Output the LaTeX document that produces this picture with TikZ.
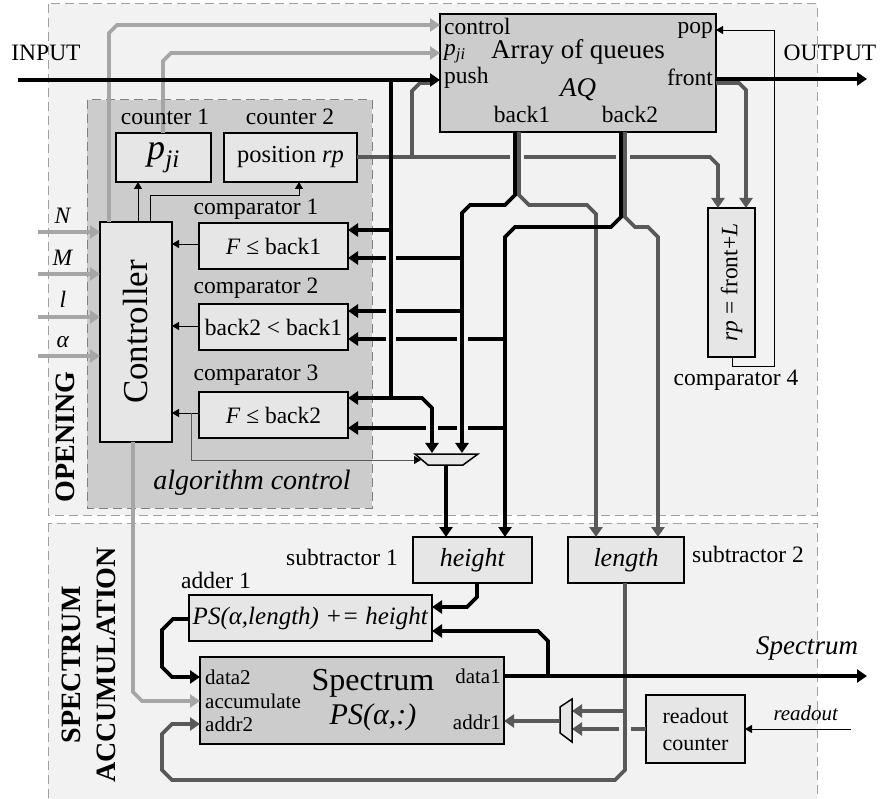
\documentclass[tikz,border=0pt]{standalone}
\usepackage{fontspec}
\setmainfont{Liberation Serif}
\usetikzlibrary{arrows.meta}
\definecolor{bgA}{HTML}{F2F2F2}
\definecolor{bgB}{HTML}{CCCCCC}
\definecolor{boxf}{HTML}{E6E6E6}
\definecolor{lgc}{HTML}{A6A6A6}
\definecolor{dgc}{HTML}{595959}
\definecolor{dashc}{HTML}{A0A0A0}
\definecolor{dashd}{HTML}{808080}
\begin{document}
\begin{tikzpicture}[x=1pt,y=-1pt,
 line join=miter,
 box/.style={draw=black, line width=1.6pt, fill=boxf, inner sep=0pt, anchor=center, font=\fontsize{23.5}{26}\selectfont},
 bigbox/.style={draw=black, line width=2.4pt, fill=bgB, inner sep=0pt, anchor=center},
 lbl/.style={inner sep=0pt, font=\fontsize{23.5}{26}\selectfont},
 fsz/.style={font=\fontsize{#1}{#1}\selectfont},
 wblk/.style={line width=3.6pt, black},
 wlg/.style={line width=3.6pt, lgc},
 wdg/.style={line width=3.6pt, dgc},
 thinw/.style={line width=0.9pt, black},
 arr/.style={-{Triangle[length=10pt,width=13pt]}},
 tarr/.style={-{Triangle[length=7pt,width=8pt]}},
 region/.style={draw=dashc, line width=1pt, dash pattern=on 9pt off 5pt},
]
\useasboundingbox (0,0) rectangle (881,799);
% regions
\draw[region, fill=bgA] (48,4) rectangle (817,515);
\draw[region, fill=bgA] (48,523) rectangle (817,806);
\draw[region, draw=dashd, fill=bgB] (87,100) rectangle (372,508);

% boxes
\node[bigbox, minimum width=276pt, minimum height=118pt] (aq) at (578,73) {};
\node[box, minimum width=95pt, minimum height=49pt, font=\fontsize{36}{36}\selectfont] (cnta) at (163.5,157.5) {\textit{p}\textsubscript{\textit{ji}}};
\node[box, minimum width=133pt, minimum height=49pt, font=\fontsize{24.5}{26}\selectfont] (cntb) at (290.5,157.5) {position \textit{rp}};
\node[box, rotate=90, minimum width=220pt, minimum height=72pt, font=\fontsize{35}{35}\selectfont] (ctrl) at (136,332) {Controller};
\node[box, minimum width=149pt, minimum height=46pt] (cmpa) at (273.5,246) {\textit{F} ≤ back1};
\node[box, minimum width=149pt, minimum height=46pt] (cmpb) at (273.5,327) {back2 < back1};
\node[box, minimum width=149pt, minimum height=46pt] (cmpc) at (273.5,415) {\textit{F} ≤ back2};
\node[box, rotate=90, minimum width=149pt, minimum height=47pt] (cmpd) at (731.5,282.5) {\textit{rp} = front+\textit{L}};
\node[box, minimum width=119pt, minimum height=46pt, font=\fontsize{26}{26}\selectfont] (subh) at (472.5,560) {\textit{height}};
\node[box, minimum width=116pt, minimum height=46pt, font=\fontsize{26}{26}\selectfont] (subl) at (626,560) {\textit{length}};
\node[box, minimum width=243pt, minimum height=46pt, font=\fontsize{25}{25}\selectfont] (add) at (310.5,618) {\textit{PS(α,length) += height}};
\node[bigbox, minimum width=304pt, minimum height=87pt] (spec) at (352,700.5) {};
\node[box, minimum width=99pt, minimum height=68pt, align=center, font=\fontsize{22}{27}\selectfont] (rdc) at (695.5,729) {readout\\counter};

% light gray wires
\foreach \yy in {232,274,317,356} \draw[wlg, arr] (38,\yy) -- (100,\yy);
\draw[wlg, arr] (109,222) -- (109,33) -- (117,25) -- (440,25);
\draw[wlg, arr] (163,133) -- (163,61) -- (171,53) -- (440,53);
\draw[wlg, arr] (133,442) -- (133,692) -- (142,701) -- (200,701);

% thin control wires
\draw[thinw, tarr] (138,222) -- (138,182);
\draw[thinw, tarr] (150,222) -- (150,195) -- (299,195) -- (299,182);
\draw[thinw, tarr] (199,244) -- (172,244);
\draw[thinw, tarr] (199,326) -- (172,326);
\draw[thinw, tarr] (199,413) -- (172,413);
\draw[line width=0.9pt, dgc, -{Triangle[length=7pt,width=8pt,color=black]}] (191,413) -- (191,460) -- (421,460);

% dark gray wires
\draw[wdg] (357,157) -- (510,157);
\draw[wdg] (524,157) -- (616,157);
\draw[wdg, arr] (630,157) -- (710,157) -- (718,165) -- (718,208);
\draw[wdg] (412,157) -- (412,91) -- (420,83) -- (432,83);
\draw[wdg, arr] (716,83) -- (739,83) -- (746,90) -- (746,208);
\draw[thinw, tarr] (732,357) -- (732,366) -- (774,366) -- (774,30) -- (716,30);
\draw[wdg, arr] (519,132) -- (519,195) -- (529,205) -- (587,205) -- (596,214) -- (596,537);
\draw[wdg, arr] (625,132) -- (625,217) -- (635,227) -- (648,227) -- (658,237) -- (658,537);

% black wires
\draw[wblk, arr] (18,80) -- (440,80);
\draw[wblk, arr] (716,79) -- (867,79);
\draw[wblk, arr] (391,80) -- (391,398) -- (422,398) -- (432,408) -- (432,453);
\draw[wblk, arr] (391,230) -- (348,230);
\draw[wblk, arr] (391,398) -- (348,398);
\draw[wblk, arr] (515,132) -- (515,195) -- (505,205) -- (470,205) -- (462,213) -- (462,453);
\draw[wblk, arr] (621,132) -- (621,217) -- (611,227) -- (515,227) -- (505,237) -- (505,537);
\draw[wblk] (462,258) -- (396,258); \draw[wblk, arr] (386,258) -- (348,258);
\draw[wblk] (462,311) -- (396,311); \draw[wblk, arr] (386,311) -- (348,311);
\draw[wblk] (505,339) -- (468,339); \draw[wblk] (457,339) -- (396,339); \draw[wblk, arr] (386,339) -- (348,339);
\draw[wblk] (505,428) -- (468,428); \draw[wblk] (457,428) -- (438,428); \draw[wblk, arr] (426,428) -- (348,428);

% mux 1
\draw[line width=1.5pt, fill=boxf] (415,454) -- (478,454) -- (463,465) -- (428,465) -- cycle;
\draw[wblk, arr] (446,465) -- (446,537);

% spectrum accumulation wires
\draw[wblk, arr] (477,583) -- (477,597) -- (467,607) -- (432,607);
\draw[wblk, arr] (548,676) -- (548,641) -- (538,631) -- (432,631);
\draw[wblk, arr] (189,619) -- (173,619) -- (162,630) -- (162,667) -- (172,677) -- (200,677);
\draw[wdg, arr] (625,583) -- (625,770) -- (615,780) -- (172,780) -- (162,770) -- (162,734) -- (172,724) -- (200,724);
\draw[wdg, arr] (625,711) -- (572,711);
\draw[wdg] (646,729) -- (631,729);
\draw[wdg, arr] (619,729) -- (572,729);
\draw[line width=1.5pt, fill=boxf] (560,707) -- (572,699) -- (572,742) -- (560,733) -- cycle;
\draw[wdg, arr] (560,721) -- (504,721);
\draw[wblk, arr] (504,676) -- (867,676);
\draw[thinw, tarr] (851,729) -- (745,729);

% labels
\node[lbl] at (46,53) {INPUT};
\node[lbl] at (830,53) {OUTPUT};
\node[lbl, anchor=west] at (444,26) {control};
\node[lbl, anchor=west] at (444,54) {\textit{p}\textsubscript{\textit{ji}}};
\node[lbl, anchor=west] at (444,78) {push};
\node[lbl, fsz=27] at (578,52) {Array of queues};
\node[lbl, fsz=27] at (578,90) {\textit{AQ}};
\node[lbl] at (522,114) {back1};
\node[lbl] at (630,114) {back2};
\node[lbl, anchor=east] at (713,30) {pop};
\node[lbl, anchor=east] at (713,77) {front};
\node[lbl] at (165,117) {counter 1};
\node[lbl] at (290,117) {counter 2};
\node[lbl] at (256,209) {comparator 1};
\node[lbl] at (256,288) {comparator 2};
\node[lbl] at (256,375) {comparator 3};
\node[lbl] at (736,380) {comparator 4};
\node[lbl, fsz=28] at (252,483) {\textit{algorithm control}};
\node[lbl] at (63,216) {\textit{N}};
\node[lbl] at (63,258) {\textit{M}};
\node[lbl] at (63,299) {\textit{l}};
\node[lbl] at (63,342) {\textit{α}};
\node[lbl, rotate=90, font=\bfseries\fontsize{28}{28}\selectfont] at (65,437) {OPENING};
\node[lbl, rotate=90, align=center, font=\bfseries\fontsize{28}{35}\selectfont] at (89,665) {SPECTRUM\\ACCUMULATION};
\node[lbl] at (342,557) {subtractor 1};
\node[lbl] at (748,554) {subtractor 2};
\node[lbl] at (216,580) {adder 1};
\node[lbl, fsz=21, anchor=west] at (205,677) {data2};
\node[lbl, fsz=21, anchor=west] at (205,701) {accumulate};
\node[lbl, fsz=21, anchor=west] at (205,724) {addr2};
\node[lbl, fsz=21, anchor=east] at (501,676) {data1};
\node[lbl, fsz=21, anchor=east] at (501,722) {addr1};
\node[lbl, fsz=32] at (373,683) {Spectrum};
\node[lbl, fsz=30] at (373,717) {\textit{PS(α,:)}};
\node[lbl, fsz=27] at (807,648) {\textit{Spectrum}};
\node[lbl, fsz=21] at (806,713) {\textit{readout}};
\end{tikzpicture}
\end{document}
